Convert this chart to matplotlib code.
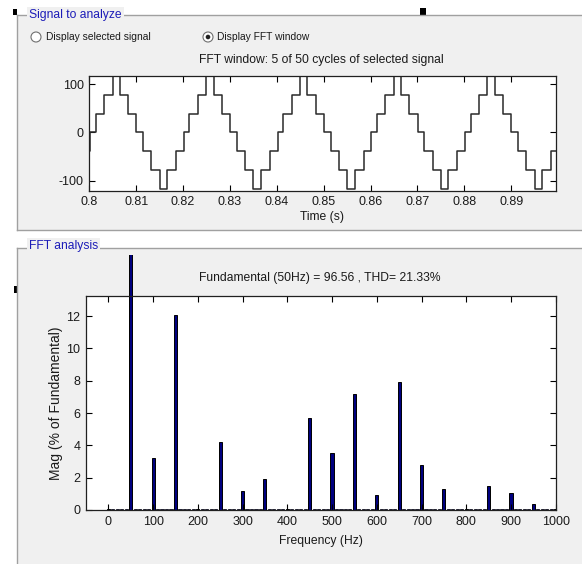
#Purpose: redraw the powergui FFT analysis window (signal + harmonic spectrum)

import numpy as np
from matplotlib import pyplot as plt
from matplotlib.patches import Rectangle, Circle
from matplotlib.transforms import Bbox, TransformedBbox

plt.rcParams['font.family'] = ['Liberation Sans', 'DejaVu Sans']
plt.rcParams['axes.unicode_minus'] = False

# ---- data ----
# one 50 Hz cycle of the staircase signal: switch times (s, from cycle start) and new level
step_times = [0.00017, 0.00134, 0.00318, 0.00495, 0.00651, 0.00828, 0.01005,
              0.01146, 0.01323, 0.01500, 0.01663, 0.01854]
step_levels = [0, 39, 78, 117, 78, 39, 0, -39, -78, -117, -78, -39]
start_level = -39
t_start = 0.8
period = 0.02
n_cycles = 5

# harmonic magnitudes (% of fundamental)
harm_freq = [0, 50, 100, 150, 200, 250, 300, 350, 400, 450, 500,
             550, 600, 650, 700, 750, 800, 850, 900, 950, 1000]
harm_mag = [0.05, 100, 3.25, 12.1, 0.05, 4.18, 1.2, 1.93, 0.05, 5.72, 3.52,
            7.17, 0.93, 7.9, 2.8, 1.33, 0.05, 1.47, 1.07, 0.35, 0.05]
inter_mag = 0.08   # every 10 Hz bin between harmonics

sig_xticks = [0.8, 0.81, 0.82, 0.83, 0.84, 0.85, 0.86, 0.87, 0.88, 0.89]
sig_xticklabels = ['0.8', '0.81', '0.82', '0.83', '0.84', '0.85', '0.86', '0.87', '0.88', '0.89']
sig_yticks = [-100, 0, 100]
fft_xticks = [0, 100, 200, 300, 400, 500, 600, 700, 800, 900, 1000]
fft_yticks = [0, 2, 4, 6, 8, 10, 12]

title_top = 'FFT window: 5 of 50 cycles of selected signal'
title_fft = 'Fundamental (50Hz) = 96.56 , THD= 21.33%'

W, H = 582, 564
PANEL = '#f0f0f0'
EDGE = '#a0a0a0'
BLUE = '#1c1cb8'
TXT = '#1a1a1a'
FS = 8.7
TICK_FS = 9

fig = plt.figure(figsize=(W / 100, H / 100), dpi=100)
fig.patch.set_facecolor('white')

# background layer in pixel coordinates
bg = fig.add_axes([0, 0, 1, 1], zorder=0)
bg.set_xlim(0, W)
bg.set_ylim(H, 0)
bg.axis('off')

bg.add_patch(Rectangle((17, 15), W - 17, 215, facecolor=PANEL, edgecolor='none'))
bg.add_patch(Rectangle((17, 248), W - 17, H - 248, facecolor=PANEL, edgecolor='none'))
bg.plot([17, 17], [15, 230], color=EDGE, lw=1)
bg.plot([17, W], [15, 15], color=EDGE, lw=1)
bg.plot([17, W], [230, 230], color=EDGE, lw=1)
bg.plot([17, 17], [248, H], color=EDGE, lw=1)
bg.plot([17, W], [248, 248], color=EDGE, lw=1)

# group box labels
lab = dict(color=BLUE, fontsize=8.7, va='center', ha='left',
           bbox=dict(facecolor=PANEL, edgecolor='none', pad=1.5))
bg.text(29, 15, 'Signal to analyze', **lab)
bg.text(29, 246, 'FFT analysis', **lab)

# little black handles
for x, y, w, h in [(13, 9, 4, 6), (420, 8, 6, 7), (14, 286, 4, 7)]:
    bg.add_patch(Rectangle((x, y), w, h, facecolor='black', edgecolor='none'))

# radio buttons
bg.add_patch(Circle((36, 37), 5, facecolor='white', edgecolor='#707070', lw=0.8))
bg.add_patch(Circle((208, 37), 5, facecolor='white', edgecolor='#707070', lw=0.8))
bg.add_patch(Circle((208, 37), 2.3, facecolor='#202020', edgecolor='none'))
bg.text(46, 37, 'Display selected signal', fontsize=7.4, color=TXT, va='center')
bg.text(217, 37, 'Display FFT window', fontsize=7.4, color=TXT, va='center')

bg.text(321, 60, title_top, fontsize=FS, color=TXT, ha='center', va='center')
bg.text(320, 278, title_fft, fontsize=FS, color=TXT, ha='center', va='center')


def style_axes(ax):
    ax.set_facecolor('white')
    ax.tick_params(direction='in', top=True, right=True, length=4, width=0.8,
                   labelsize=TICK_FS, labelcolor=TXT, pad=4)
    for s in ax.spines.values():
        s.set_linewidth(0.9)
        s.set_color('#202020')


# ---- top: time signal ----
ax1 = fig.add_axes([89.3 / W, (H - 190.7) / H, (555.7 - 89.3) / W, 115 / H], zorder=2)
t_pts = [t_start]
y_pts = [start_level]
for c in range(n_cycles):
    for dt, lv in zip(step_times, step_levels):
        t_pts.append(t_start + c * period + dt)
        y_pts.append(lv)
t_pts.append(t_start + n_cycles * period)
y_pts.append(y_pts[-1])
ax1.step(t_pts, y_pts, where='post', color='#2a2a2a', lw=1.1)
ax1.set_xlim(0.8, 0.8995)
ax1.set_ylim(-121, 117.5)
ax1.set_xticks(sig_xticks)
ax1.set_xticklabels(sig_xticklabels)
ax1.set_yticks(sig_yticks)
style_axes(ax1)
ax1.set_xlabel('Time (s)', fontsize=FS, color=TXT)
ax1.xaxis.set_label_coords(0.5, -0.18)

# ---- bottom: spectrum ----
ax2 = fig.add_axes([86 / W, (H - 510) / H, (555.7 - 86) / W, 214 / H], zorder=2)
inter_freq = [f for f in range(0, 1001, 10) if f % 50 != 0]
ax2.bar(inter_freq, [inter_mag] * len(inter_freq), width=7, color='#00007f',
        edgecolor='black', linewidth=0.5)
bars = ax2.bar(harm_freq, harm_mag, width=7, color='#00007f',
               edgecolor='black', linewidth=0.7)
# the fundamental bar runs out of the axes and is cut at the panel edge
fund = bars[1]
fund.set_clip_on(True)
fund.set_clip_box(TransformedBbox(Bbox.from_extents(0, 0, 1, (H - 255) / H), fig.transFigure))
ax2.set_xlim(-50, 1000)
ax2.set_ylim(0, 13.25)
ax2.set_xticks(fft_xticks)
ax2.set_yticks(fft_yticks)
style_axes(ax2)
ax2.set_xlabel('Frequency (Hz)', fontsize=FS, color=TXT)
ax2.xaxis.set_label_coords(0.5, -0.115)
ax2.set_ylabel('Mag (% of Fundamental)', fontsize=10, color=TXT)
ax2.yaxis.set_label_coords(-0.05, 0.5)

fig.savefig('out.png', dpi=100)
